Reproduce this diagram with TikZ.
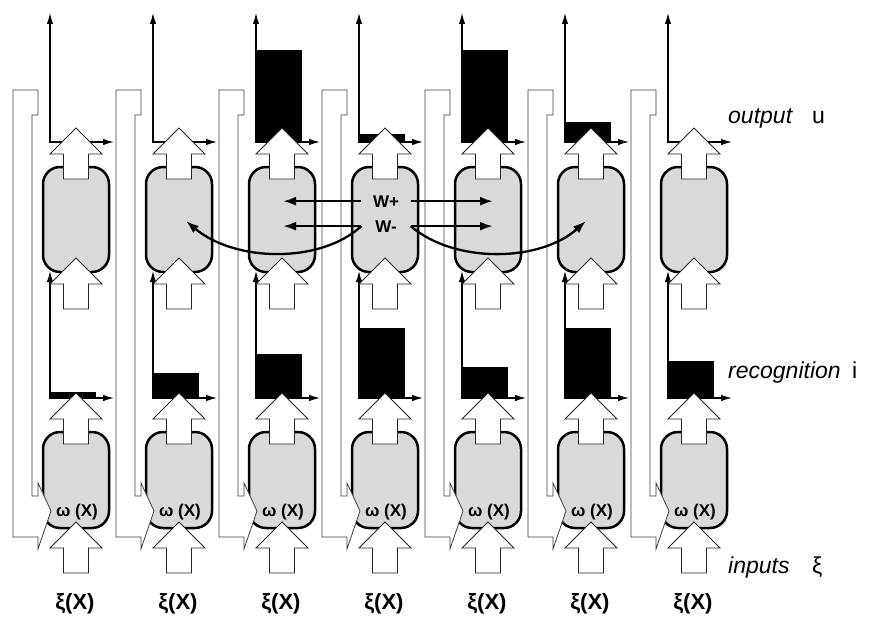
\documentclass[tikz,border=0pt]{standalone}
\usepackage{fontspec}
\setmainfont{Liberation Sans}
\usetikzlibrary{arrows.meta}

\tikzset{
  cell/.style={draw, line width=2.5pt, fill=black!15, rounded corners=17pt, minimum width=66pt, inner sep=0pt},
  fat/.style={draw=black!85, line width=0.8pt, fill=white},
  feed/.style={draw=black!75, line width=0.8pt, fill=white},
  sig/.style={line width=1.2pt, {Latex[length=11pt,width=6.5pt]}-{Latex[length=11pt,width=6.5pt]}},
  link/.style={line width=2.3pt, -{Latex[length=13pt,width=9pt]}},
  bar/.style={fill=black},
  side/.style={anchor=base west, inner sep=0pt, font=\fontsize{23}{26}\selectfont},
  omlabel/.style={anchor=base, inner sep=0pt, font=\bfseries\fontsize{17}{20}\selectfont},
  xilabel/.style={anchor=base, inner sep=0pt, font=\bfseries\fontsize{22}{25}\selectfont},
  wlabel/.style={anchor=base, inner sep=0pt, minimum width=49pt, font=\bfseries\fontsize{17}{19}\selectfont},
  pics/fatup/.style={code={
    \draw[fat] (0,0) -- (26,26) -- (12.5,26) -- (12.5,51) -- (-12.5,51) -- (-12.5,26) -- (-26,26) -- cycle;
  }},
}

\begin{document}
\begin{tikzpicture}[x=1pt, y=-1pt]
  \useasboundingbox (0,0) rectangle (875,618);
  \foreach \i/\lo/\hi in {1/6/0, 2/25/0, 3/44/92, 4/70/8, 5/31/92, 6/70/20, 7/37/0} {
    \pgfmathsetmacro\c{76+103*(\i-1)}
    \node[cell, minimum height=105pt] (up\i) at (\c,219.5) {};
    \node[cell, minimum height=96pt] (lo\i) at (\c,480) {};
    \draw[feed] (\c-63,90) -- (\c-38,90) -- (\c-38,115) -- (\c-44,115) -- (\c-44,496) -- (\c-38,496)
      -- (\c-38,483) -- (\c-25,511) -- (\c-38,549) -- (\c-38,537) -- (\c-63,537) -- cycle;
    \fill[bar] (\c-26,142) rectangle (\c+20,142-\hi);
    \fill[bar] (\c-26,398) rectangle (\c+20,398-\lo);
    \coordinate (ot\i) at (\c-26,13);
    \coordinate (or\i) at (\c+38,142);
    \coordinate (it\i) at (\c-26,271);
    \coordinate (ir\i) at (\c+38,398);
    \draw[sig] (ot\i) |- (or\i);
    \draw[sig] (it\i) |- (ir\i);
    \pic at (\c,128) {fatup};
    \pic at (\c,258) {fatup};
    \pic at (\c,393) {fatup};
    \pic at (\c,522) {fatup};
    \node[omlabel] (om\i) at (\c+1,516) {ω (X)};
    \node[xilabel] (xi\i) at (\c-1,609) {ξ(X)};
  }

  \node[wlabel] (wp) at (386,207) {W+};
  \node[wlabel] (wm) at (386,232) {W-};
  \coordinate (pl) at (283,0);
  \coordinate (pr) at (493,0);
  \coordinate (cl) at (186,221);
  \coordinate (cr) at (586,221);
  \draw[link] (wp.west) -- (wp.west -| pl);
  \draw[link] (wp.east) -- (wp.east -| pr);
  \draw[link] (wm.west) -- (wm.west -| pl);
  \draw[link] (wm.east) -- (wm.east -| pr);
  \draw[link] (wm.west) .. controls (320,264) and (235,262) .. (cl);
  \draw[link] (wm.east) .. controls (455,264) and (540,262) .. (cr);

  \node[side] (outl) at (728,123) {\itshape output};
  \node[side] (outu) at (812,123) {u};
  \node[side] (recl) at (728,378) {\itshape recognition};
  \node[side] (reci) at (852,378) {i};
  \node[side] (inl) at (728,573) {\itshape inputs};
  \node[side] (inx) at (812,573) {ξ};
\end{tikzpicture}
\end{document}
